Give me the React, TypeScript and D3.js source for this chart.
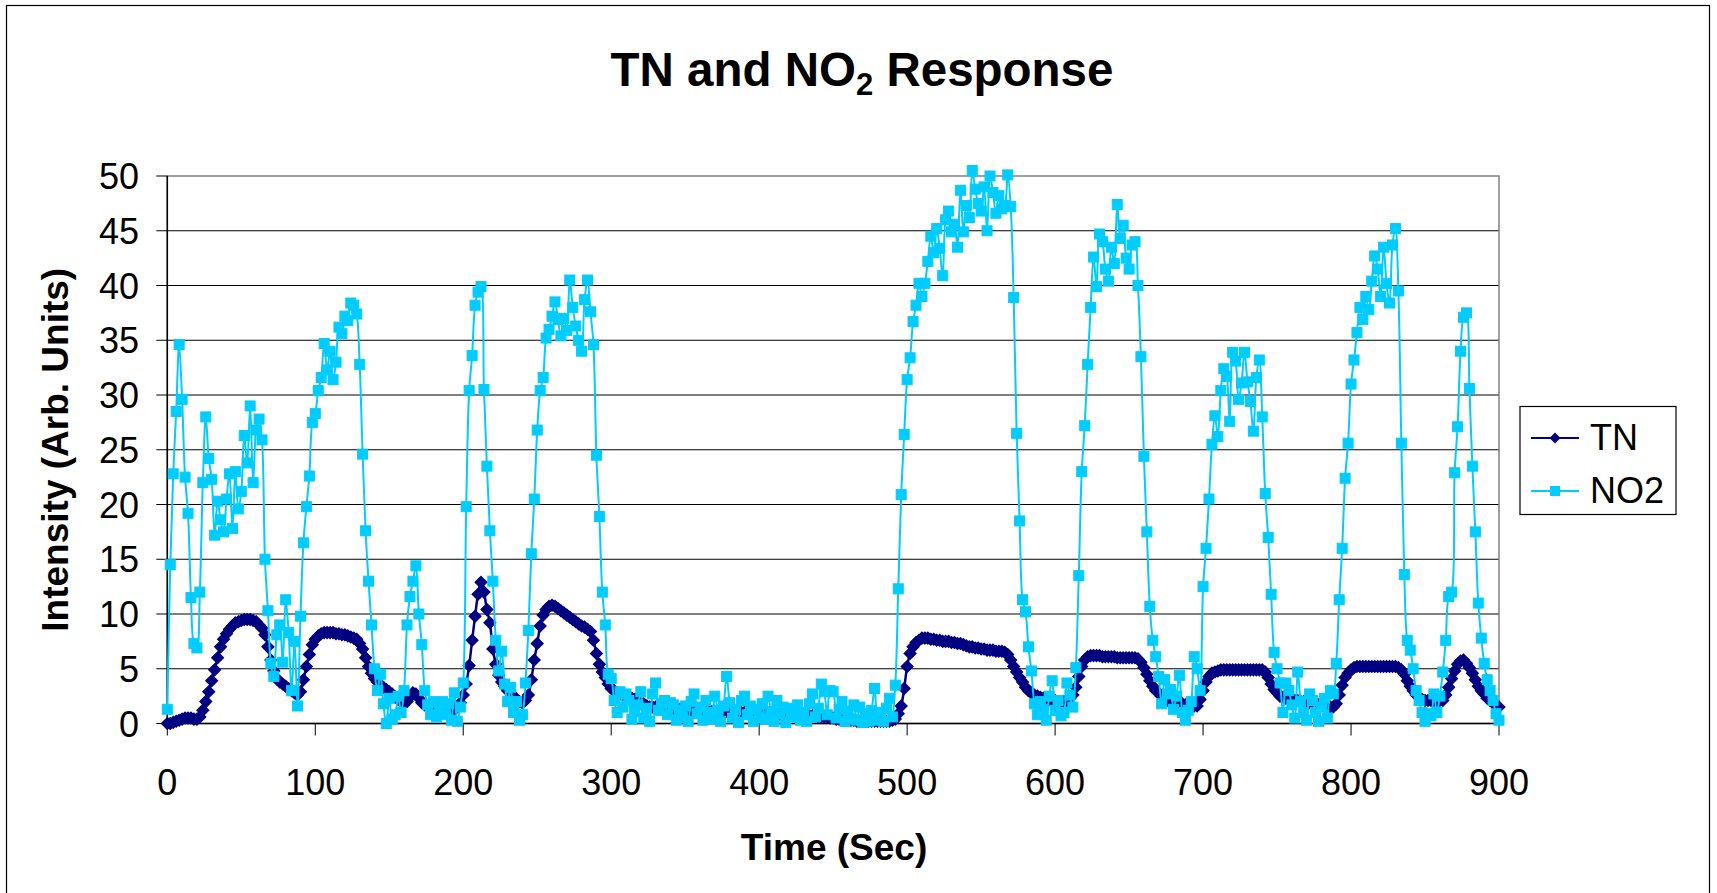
import React from "react";
import * as d3 from "d3";

// time axis: one reading every 2 seconds, 0..900
const step = 2;
const xTicks = [0, 100, 200, 300, 400, 500, 600, 700, 800, 900];
const yTicks = [0, 5, 10, 15, 20, 25, 30, 35, 40, 45, 50];

// TN series (2 s apart)
const tnValues = [
  0.0, 0.0, 0.1, 0.2, 0.3, 0.4, 0.5, 0.5, 0.5, 0.4,
  0.4, 0.6, 1.2, 2.0, 2.9, 3.9, 4.9, 6.0, 7.0, 7.7,
  8.2, 8.6, 8.9, 9.2, 9.3, 9.4, 9.5, 9.5, 9.5, 9.4,
  9.3, 9.0, 8.7, 8.1, 7.0, 5.8, 4.8, 4.1, 3.8, 3.6,
  3.4, 3.2, 3.0, 2.8, 2.6, 2.9, 4.0, 5.2, 6.3, 7.2,
  7.7, 8.0, 8.2, 8.3, 8.3, 8.3, 8.3, 8.2, 8.2, 8.1,
  8.1, 8.0, 7.9, 7.8, 7.7, 7.3, 6.8, 6.0, 5.2, 4.6,
  4.1, 3.8, 3.5, 3.3, 3.1, 2.9, 2.7, 2.4, 2.2, 2.0,
  1.9, 2.0, 2.4, 2.8, 2.7, 2.3, 1.9, 1.7, 1.6, 1.4,
  1.3, 1.2, 1.2, 1.1, 1.1, 1.1, 1.2, 1.3, 1.5, 1.9,
  2.6, 3.6, 5.3, 7.6, 9.8, 11.8, 12.9, 12.0, 10.4, 9.2,
  6.8, 5.4, 4.4, 3.8, 3.4, 3.0, 2.8, 2.5, 2.2, 2.0,
  1.9, 2.1, 2.6, 4.0, 5.8, 7.3, 8.9, 9.9, 10.4, 10.7,
  10.8, 10.7, 10.5, 10.3, 10.1, 9.9, 9.7, 9.5, 9.3, 9.1,
  8.9, 8.8, 8.6, 8.4, 7.6, 6.4, 5.4, 4.7, 4.2, 3.6,
  3.2, 3.0, 2.8, 2.7, 2.6, 2.5, 2.4, 2.3, 2.2, 2.1,
  1.9, 1.8, 1.6, 1.5, 1.5, 1.5, 1.5, 1.5, 1.5, 1.4,
  1.4, 1.4, 1.3, 1.3, 1.3, 1.2, 1.2, 1.2, 1.2, 1.2,
  1.1, 1.1, 1.1, 1.1, 1.1, 1.1, 1.1, 1.1, 1.1, 1.1,
  1.1, 1.0, 1.0, 1.0, 1.0, 1.0, 1.0, 1.0, 0.9, 0.9,
  0.9, 0.9, 0.9, 0.9, 0.9, 0.9, 0.8, 0.8, 0.8, 0.8,
  0.8, 0.8, 0.8, 0.8, 0.7, 0.7, 0.7, 0.7, 0.7, 0.7,
  0.6, 0.6, 0.6, 0.6, 0.5, 0.5, 0.4, 0.4, 0.3, 0.3,
  0.3, 0.3, 0.3, 0.2, 0.2, 0.2, 0.2, 0.2, 0.2, 0.2,
  0.2, 0.2, 0.2, 0.2, 0.2, 0.3, 0.4, 0.9, 1.6, 3.2,
  5.2, 6.4, 7.0, 7.4, 7.6, 7.8, 7.8, 7.8, 7.7, 7.7,
  7.6, 7.6, 7.5, 7.5, 7.5, 7.4, 7.4, 7.3, 7.3, 7.2,
  7.1, 7.0, 7.0, 6.9, 6.9, 6.8, 6.8, 6.7, 6.7, 6.7,
  6.6, 6.6, 6.6, 6.5, 6.3, 5.8, 5.2, 4.7, 4.2, 3.8,
  3.3, 3.0, 2.8, 2.6, 2.5, 2.4, 2.3, 2.2, 2.2, 2.1,
  2.1, 2.0, 2.0, 2.0, 2.1, 2.3, 2.6, 3.3, 4.3, 5.2,
  5.8, 6.1, 6.2, 6.2, 6.2, 6.2, 6.1, 6.1, 6.1, 6.1,
  6.1, 6.0, 6.0, 6.0, 6.0, 6.0, 6.0, 6.0, 5.9, 5.6,
  5.1, 4.5, 3.9, 3.4, 3.0, 2.8, 2.5, 2.2, 2.1, 2.0,
  1.9, 1.9, 1.8, 1.8, 1.7, 1.7, 1.6, 1.6, 1.6, 2.2,
  3.0, 3.8, 4.3, 4.6, 4.7, 4.8, 4.9, 4.9, 4.9, 4.9,
  4.9, 4.9, 4.9, 4.9, 4.9, 4.9, 4.9, 4.9, 4.9, 4.9,
  4.9, 4.7, 4.2, 3.6, 3.1, 2.8, 2.5, 2.4, 2.3, 2.2,
  2.2, 2.1, 2.1, 2.0, 2.0, 1.9, 1.9, 1.8, 1.8, 1.7,
  1.7, 1.6, 1.6, 1.5, 1.5, 1.8, 2.6, 3.5, 4.2, 4.6,
  4.9, 5.1, 5.2, 5.2, 5.2, 5.2, 5.2, 5.2, 5.2, 5.2,
  5.2, 5.2, 5.2, 5.2, 5.2, 5.2, 5.1, 4.9, 4.5, 3.9,
  3.4, 3.0, 2.6, 2.4, 2.2, 2.1, 2.1, 2.1, 2.1, 2.1,
  2.1, 2.1, 2.6, 3.3, 4.1, 4.8, 5.4, 5.7, 5.8, 5.5,
  5.1, 4.6, 4.0, 3.4, 3.0, 2.7, 2.3, 2.1, 1.9, 1.6,
  1.5,
];

// NO2 series (2 s apart)
const no2Values = [
  1.3, 14.5, 22.8, 28.5, 34.6, 29.6, 22.5, 19.2, 11.5, 7.3,
  6.9, 12.0, 22.0, 28.0, 24.2, 22.3, 17.2, 20.3, 18.6, 17.5,
  20.5, 22.8, 17.8, 23.0, 19.6, 21.2, 26.3, 23.8, 29.0, 22.0,
  26.8, 27.8, 25.9, 15.0, 10.3, 5.5, 4.3, 8.1, 9.0, 5.6,
  11.3, 8.3, 3.0, 7.5, 1.6, 9.8, 16.5, 19.8, 22.6, 27.5,
  28.3, 30.4, 31.6, 34.7, 32.3, 34.0, 31.4, 33.0, 36.2, 35.6,
  37.2, 36.8, 38.4, 38.2, 37.4, 32.8, 24.6, 17.6, 13.0, 9.0,
  5.0, 3.0, 4.5, 1.8, 0.0, 2.3, 0.4, 0.8, 2.5, 1.0,
  3.0, 9.0, 11.6, 13.0, 14.4, 10.0, 7.2, 3.0, 1.7, 0.8,
  2.0, 0.6, 1.5, 2.0, 0.8, 1.8, 0.3, 2.8, 0.2, 1.5,
  3.7, 19.8, 30.4, 33.6, 38.2, 39.4, 39.9, 30.5, 23.5, 17.6,
  13.0, 7.6, 4.8, 6.6, 3.6, 2.0, 3.3, 1.0, 2.0, 0.3,
  0.8, 3.7, 8.5, 15.5, 20.5, 26.8, 30.4, 31.6, 35.2, 36.0,
  37.2, 38.5, 36.9, 35.4, 37.0, 35.9, 40.5, 38.0, 36.3, 35.0,
  34.0, 38.7, 40.5, 37.6, 34.6, 24.5, 18.9, 12.0, 9.0, 4.5,
  4.1, 2.1, 1.0, 2.9, 1.5, 2.7, 2.1, 0.4, 1.1, 1.7,
  2.9, 0.5, 1.4, 0.2, 2.7, 3.7, 1.2, 1.8, 2.1, 0.8,
  1.9, 1.7, 0.3, 1.2, 0.6, 1.6, 0.2, 2.0, 2.7, 0.9,
  1.5, 0.3, 2.1, 1.0, 0.4, 2.5, 1.2, 0.2, 1.6, 4.3,
  1.9, 0.5, 1.3, 0.1, 2.1, 2.5, 0.8, 1.6, 0.2, 1.3,
  0.6, 1.8, 0.4, 2.5, 1.1, 0.2, 2.1, 0.9, 1.5, 0.1,
  1.4, 0.6, 1.2, 1.7, 0.3, 1.0, 0.2, 1.8, 2.7, 0.6,
  1.4, 3.6, 2.9, 0.8, 3.0, 2.9, 0.5, 1.3, 2.0, 0.2,
  1.1, 0.4, 1.7, 0.3, 1.5, 0.1, 0.9, 0.2, 1.2, 3.2,
  0.3, 1.0, 0.2, 1.4, 2.3, 0.6, 3.5, 12.3, 20.9, 26.4,
  31.4, 33.4, 36.7, 38.2, 40.2, 39.0, 40.2, 42.2, 44.5, 43.0,
  45.2, 43.4, 40.9, 46.0, 46.8, 44.9, 45.6, 43.5, 48.7, 44.9,
  47.3, 46.2, 50.5, 48.8, 47.5, 46.8, 49.0, 45.0, 50.0, 48.5,
  46.6, 48.2, 47.0, 47.3, 50.1, 47.2, 38.9, 26.5, 18.5, 11.3,
  10.2, 7.0, 4.8, 1.8, 0.8, 2.0, 1.3, 0.3, 2.5, 3.9,
  1.2, 2.1, 0.7, 1.0, 3.7, 2.6, 1.5, 5.1, 13.5, 23.0,
  27.2, 32.8, 38.0, 42.6, 39.9, 44.7, 44.0, 41.5, 40.4, 43.5,
  42.0, 47.4, 44.3, 45.5, 42.5, 41.5, 43.7, 44.0, 40.0, 33.5,
  24.4, 17.5, 10.7, 7.6, 6.1, 4.3, 1.8, 4.0, 2.7, 3.1,
  1.3, 2.5, 4.4, 1.0, 0.3, 1.2, 2.0, 6.1, 5.0, 3.0,
  12.5, 16.0, 20.5, 25.5, 28.1, 26.2, 30.4, 32.4, 31.7, 27.6,
  33.9, 33.1, 29.6, 31.1, 33.9, 31.2, 29.4, 26.7, 31.6, 33.2,
  28.0, 21.0, 17.0, 11.8, 6.5, 5.0, 3.7, 1.0, 3.7, 3.0,
  1.7, 0.5, 4.7, 2.0, 1.0, 0.3, 2.7, 2.1, 1.0, 0.2,
  1.5, 2.3, 0.5, 3.0, 2.7, 5.5, 11.3, 16.0, 22.4, 25.6,
  31.0, 33.2, 35.7, 38.0, 36.9, 39.0, 37.8, 40.4, 42.7, 41.5,
  39.0, 43.5, 40.2, 38.4, 43.7, 45.2, 39.5, 25.6, 13.6, 7.6,
  6.7, 5.0, 3.0, 2.1, 1.0, 0.2, 0.9, 0.7, 2.7, 1.0,
  2.5, 4.7, 7.6, 11.6, 12.0, 22.9, 27.1, 34.0, 37.1, 37.5,
  30.6, 23.5, 17.5, 11.0, 7.8, 5.5, 4.0, 3.0, 2.1, 0.9,
  0.3,
];

const times = tnValues.map((_, i) => i * step);

const TN_COLOR = "#000080";
const NO2_COLOR = "#00CCFF";
const FONT = "'Liberation Sans', Arial, sans-serif";

function diamond(cx: number, cy: number, r: number) {
  return `M${cx},${cy - r}L${cx + r},${cy}L${cx},${cy + r}L${cx - r},${cy}Z`;
}

export default function App() {
  const W = 1717;
  const H = 893;
  const plot = { left: 167.3, right: 1499, top: 176, bottom: 723.5 };

  const x = d3.scaleLinear().domain([0, 900]).range([plot.left, plot.right]);
  const y = d3.scaleLinear().domain([0, 50]).range([plot.bottom, plot.top]);

  const line = d3
    .line<number>()
    .x((d, i) => x(times[i]))
    .y((d) => y(d))
    .curve(d3.curveCatmullRom);

  return (
    <svg
      width={W}
      height={H}
      style={{ position: "absolute", left: 0, top: 0, background: "#fff" }}
      fontFamily={FONT}
    >
      {/* chart border */}
      <rect x={6.5} y={5.5} width={1703} height={920} fill="#fff" stroke="#000" strokeWidth={1.2} />

      {/* title */}
      <text x={862} y={86} textAnchor="middle" fontSize={47.5} fontWeight="bold">
        <tspan>TN and NO</tspan>
        <tspan fontSize={31} dy={9}>2</tspan>
        <tspan dy={-9}> Response</tspan>
      </text>

      {/* gridlines */}
      {yTicks.slice(1, -1).map((t) => (
        <line key={"g" + t} x1={plot.left} x2={plot.right} y1={y(t)} y2={y(t)} stroke="#000" strokeWidth={1} />
      ))}
      {/* plot area border */}
      <rect
        x={plot.left}
        y={plot.top}
        width={plot.right - plot.left}
        height={plot.bottom - plot.top}
        fill="none"
        stroke="#808080"
        strokeWidth={1.5}
      />

      {/* axes */}
      <line x1={plot.left} x2={plot.left} y1={plot.top} y2={plot.bottom} stroke="#000" strokeWidth={1.5} />
      <line x1={plot.left} x2={plot.right} y1={plot.bottom} y2={plot.bottom} stroke="#000" strokeWidth={1.5} />

      {yTicks.map((t) => (
        <g key={"y" + t}>
          <line x1={plot.left - 11} x2={plot.left} y1={y(t)} y2={y(t)} stroke="#000" strokeWidth={1} />
          <text x={139} y={y(t) + 13} textAnchor="end" fontSize={36}>
            {t}
          </text>
        </g>
      ))}
      {xTicks.map((t) => (
        <g key={"x" + t}>
          <line x1={x(t)} x2={x(t)} y1={plot.bottom} y2={plot.bottom + 12} stroke="#000" strokeWidth={1} />
          <text x={x(t)} y={795} textAnchor="middle" fontSize={36}>
            {t}
          </text>
        </g>
      ))}

      {/* axis titles */}
      <text x={834} y={860} textAnchor="middle" fontSize={37} fontWeight="bold">
        Time (Sec)
      </text>
      <text
        transform={`translate(68, ${(plot.top + plot.bottom) / 2}) rotate(-90)`}
        textAnchor="middle"
        fontSize={37}
        fontWeight="bold"
      >
        Intensity (Arb. Units)
      </text>

      {/* TN series */}
      <path d={line(tnValues) || ""} fill="none" stroke={TN_COLOR} strokeWidth={2.5} />
      {tnValues.map((v, i) => (
        <path key={"tn" + i} d={diamond(x(times[i]), y(v), 5.8)} fill={TN_COLOR} stroke={TN_COLOR} strokeWidth={1.4} />
      ))}

      {/* NO2 series */}
      <path d={line(no2Values) || ""} fill="none" stroke={NO2_COLOR} strokeWidth={2} />
      {no2Values.map((v, i) => (
        <rect
          key={"no2" + i}
          x={x(times[i]) - 5}
          y={y(v) - 5}
          width={10}
          height={10}
          fill={NO2_COLOR}
          stroke={NO2_COLOR}
          strokeWidth={1}
        />
      ))}

      {/* legend */}
      <rect x={1520} y={406.5} width={156} height={108} fill="#fff" stroke="#000" strokeWidth={1.2} />
      <line x1={1531} x2={1579} y1={438} y2={438} stroke={TN_COLOR} strokeWidth={2} />
      <path d={diamond(1555, 438, 5.5)} fill={TN_COLOR} />
      <text x={1590} y={450} fontSize={36}>TN</text>
      <line x1={1531} x2={1579} y1={491} y2={491} stroke={NO2_COLOR} strokeWidth={2} />
      <rect x={1550} y={486} width={10} height={10} fill={NO2_COLOR} />
      <text x={1590} y={503} fontSize={36}>NO2</text>
    </svg>
  );
}
